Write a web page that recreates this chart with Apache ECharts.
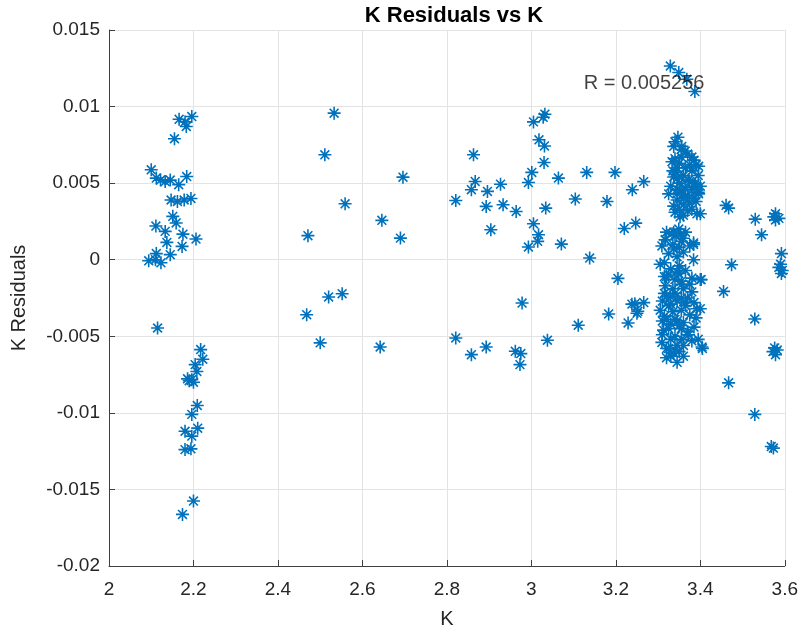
<!DOCTYPE html>
<html>
<head>
<meta charset="utf-8">
<script src="https://cdn.jsdelivr.net/npm/echarts@6/dist/echarts.min.js"></script>
<style>html,body{margin:0;padding:0;background:#fff;}#chart{width:801px;height:637px;}</style>
</head>
<body>
<div id="chart"></div>
<script>
// ---- data ----
const titleText = 'K Residuals vs K';
const xName = 'K';
const yName = 'K Residuals';
const xTicks = [2, 2.2, 2.4, 2.6, 2.8, 3, 3.2, 3.4, 3.6];
const yTicks = [-0.02, -0.015, -0.01, -0.005, 0, 0.005, 0.01, 0.015];
const annotationText = 'R = 0.005256';
const annotationAt = [3.124, 0.01148];

// cluster near K = 2.1 - 2.2 (upper part)
const kLowA = [2.166,2.18,2.196,2.183,2.155,2.1,2.112,2.122,2.133,2.145,2.165,2.184,2.147,2.162,2.178,2.194,2.151,2.159,2.111,2.133,2.175,2.206,2.137,2.173,2.145,2.112,2.094,2.11,2.123,2.115];
const rLowA = [0.00917,0.0090,0.00935,0.0087,0.0079,0.00587,0.00533,0.0052,0.0051,0.0052,0.0049,0.00543,0.0039,0.0038,0.0039,0.0040,0.00283,0.0024,0.0022,0.00185,0.00167,0.00135,0.00113,0.00087,0.00033,0.0004,-0.00007,0,-0.0002,-0.00446];
// cluster near K = 2.2 (lower part)
const kLowB = [2.217,2.222,2.204,2.208,2.186,2.196,2.2,2.19,2.209,2.196,2.18,2.21,2.196,2.18,2.194,2.2,2.174];
const rLowB = [-0.00587,-0.0065,-0.00685,-0.0073,-0.00778,-0.00783,-0.008,-0.0079,-0.00952,-0.0101,-0.0112,-0.011,-0.01152,-0.0124,-0.01235,-0.01576,-0.01663];
// K = 2.45 - 2.7
const kMidA = [2.533,2.511,2.696,2.559,2.471,2.646,2.69,2.52,2.552,2.468,2.5,2.642];
const rMidA = [0.00957,0.00685,0.00539,0.00365,0.00157,0.00257,0.00141,-0.00243,-0.00222,-0.00359,-0.00543,-0.0057];
// K = 2.8 - 3.25
const kMidB = [3.018,3.031,3.03,2.863,3.001,2.993,3.064,3.131,3.198,3.239,2.867,2.858,2.896,2.927,2.821,2.893,2.933,2.964,3.034,3.104,3.179,2.904,3.005,3.017,3.015,2.993,3.071,3.22,3.247,3.138,3.205,2.978,3.245,3.252,3.183,3.229,3.111,2.821,2.858,2.893,2.962,2.975,2.973,3.038,3.005,3.028,3.032,3.266,3.238,3.266,3.25];
const rMidB = [0.00783,0.00743,0.00635,0.00685,0.0057,0.00504,0.00533,0.0057,0.0057,0.00457,0.00511,0.00457,0.00446,0.00493,0.00387,0.00348,0.00359,0.00315,0.00337,0.00396,0.0038,0.00196,0.00235,0.00163,0.0012,0.00083,0.00102,0.00204,0.00239,0.00011,-0.00122,-0.00283,-0.00287,-0.00337,-0.00354,-0.00413,-0.00428,-0.00511,-0.0062,-0.0057,-0.00598,-0.00613,-0.00685,-0.00526,0.0090,0.0093,0.0095,0.0051,-0.0029,-0.0028,-0.0035];
// dense cluster K = 3.3 - 3.4 (upper)
const kHighA = [3.329,3.349,3.368,3.387,3.347,3.337,3.356,3.364,3.38,3.396,3.333,3.345,3.337,3.356,3.372,3.388,3.4,3.325,3.345,3.364,3.384,3.396,3.337,3.36,3.392,3.352,3.34,3.355,3.37,3.385,3.34,3.35,3.365,3.38,3.395,3.34,3.35,3.365,3.38,3.395,3.33,3.345,3.36,3.375,3.39,3.35,3.37,3.34,
  3.355,3.375,3.345,3.36,3.375,3.39,3.355,3.37,3.38,3.36,3.345,3.335,3.39];
const rHighA = [0.01265,0.01222,0.01178,0.01098,0.008,0.0074,0.0074,0.0071,0.0067,0.0061,0.0064,0.006,0.0054,0.0054,0.0052,0.005,0.0048,0.0043,0.0043,0.0041,0.004,0.0043,0.0035,0.0036,0.003,0.0028,0.0077,0.0072,0.0069,0.0065,0.0066,0.0063,0.006,0.0058,0.0055,0.0057,0.005,0.0047,0.0046,0.0044,0.0048,0.0039,0.004,0.0037,0.0038,0.0033,0.0032,0.0031,
  0.0067,0.0062,0.0053,0.0055,0.0051,0.0048,0.0045,0.0042,0.0033,0.0029,0.0046,0.0058,0.0062];
// dense cluster K = 3.3 - 3.4 (lower)
const kHighB = [3.337,3.317,3.353,3.384,3.333,3.349,3.317,3.36,3.384,3.309,3.337,3.384,3.305,3.349,3.4,3.317,3.356,3.38,3.329,3.305,3.325,3.364,3.392,3.321,3.345,3.313,3.372,3.356,3.309,3.325,3.404,3.345,3.337,3.32,3.34,3.355,3.325,3.345,3.36,3.315,3.33,3.35,3.365,3.32,3.34,3.36,3.375,3.315,3.335,3.345,3.31,3.335,3.355,3.375,3.315,3.33,3.355,3.385,3.31,3.34,3.36,3.38,3.32,3.35,3.395,3.33,
  3.325,3.335,3.345,3.355,3.365,3.325,3.34,3.35,3.33,3.345,3.32,3.33,3.36,3.37,3.315,3.35,3.365,3.375,3.37,3.385,3.39,3.38,3.32,3.34,3.36,3.31,3.34,3.355];
const rHighB = [0.0018,0.0013,0.0016,0.0011,0.0017,0.002,0.0013,0.0014,0.001,0.0009,0.0007,0,-0.0003,-0.0009,-0.0013,-0.0017,-0.0016,-0.0021,-0.0024,-0.0033,-0.003,-0.0028,-0.0032,-0.0039,-0.004,-0.0046,-0.0049,-0.0052,-0.0054,-0.0058,-0.0057,-0.0067,-0.0061,0.0018,0.0016,0.0012,0.0004,0.0002,0.0005,-0.0002,-0.0006,-0.0004,-0.0007,-0.0011,-0.0013,-0.0019,-0.0016,-0.0022,-0.0019,-0.0027,-0.0027,-0.0034,-0.0033,-0.0036,-0.0037,-0.0042,-0.0045,-0.0044,-0.0049,-0.005,-0.0056,-0.0053,-0.0058,-0.006,-0.0052,-0.0063,
  -0.001,0.001,-0.0008,-0.0025,-0.003,-0.0045,-0.0039,-0.0043,-0.0052,-0.0056,-0.0024,-0.0029,-0.0041,-0.0047,-0.0011,0.0008,0.0018,0.0009,-0.0025,-0.0028,-0.0038,-0.0012,-0.0064,-0.0059,-0.0063,-0.004,-0.0022,-0.0014];
// K = 3.4 - 3.6
const kRight = [3.461,3.467,3.53,3.545,3.578,3.578,3.574,3.586,3.592,3.59,3.586,3.594,3.592,3.474,3.455,3.529,3.576,3.572,3.582,3.578,3.467,3.529,3.568,3.573,3.4,3.402,3.4,3.405];
const rRight = [0.00355,0.00337,0.00265,0.00163,0.003,0.0026,0.0028,0.0027,0.0004,-0.0003,-0.0005,-0.0007,-0.0009,-0.00033,-0.00207,-0.00387,-0.00576,-0.006,-0.0059,-0.0062,-0.00804,-0.0101,-0.0122,-0.0123,0.003,-0.0013,-0.0032,-0.0058];

// ---- build ----
const kAll = [].concat(kLowA, kLowB, kMidA, kMidB, kHighA, kHighB, kRight);
const rAll = [].concat(rLowA, rLowB, rMidA, rMidB, rHighA, rHighB, rRight);
const points = kAll.map((k, i) => [k, rAll[i]]);

const FONT = '"Liberation Sans", Arial, Helvetica, sans-serif';
const BLUE = '#0072BD';
const TXT = '#262626';
const star = 'path://M0,5L10,5M5,0L5,10M1.6,1.6L8.4,8.4M1.6,8.4L8.4,1.6';

const chart = echarts.init(document.getElementById('chart'), null, {renderer: 'canvas'});
chart.setOption({
  animation: false,
  backgroundColor: '#ffffff',
  title: {
    text: titleText,
    left: 449, top: 0, textAlign: 'center',
    textStyle: {fontFamily: FONT, fontSize: 22, fontWeight: 'bold', color: '#000'}
  },
  grid: {left: 109, right: 15, top: 30, bottom: 71, containLabel: false},
  xAxis: {
    type: 'value', min: xTicks[0], max: xTicks[xTicks.length - 1], interval: 0.2,
    name: xName, nameLocation: 'middle', nameGap: 43,
    nameTextStyle: {fontFamily: FONT, fontSize: 20, color: TXT},
    axisLine: {show: true, onZero: false, lineStyle: {color: '#404040', width: 1}},
    axisTick: {show: true, inside: true, length: 6, lineStyle: {color: '#404040'}},
    axisLabel: {fontFamily: FONT, fontSize: 19, color: TXT, margin: 14,
      formatter: v => String(+(+v).toFixed(1))},
    splitLine: {show: true, lineStyle: {color: '#e3e3e3', width: 1}}
  },
  yAxis: {
    type: 'value', min: yTicks[0], max: yTicks[yTicks.length - 1], interval: 0.005,
    name: yName, nameLocation: 'middle', nameGap: 80,
    nameTextStyle: {fontFamily: FONT, fontSize: 20, color: TXT},
    axisLine: {show: true, onZero: false, lineStyle: {color: '#404040', width: 1}},
    axisTick: {show: true, inside: true, length: 6, lineStyle: {color: '#404040'}},
    axisLabel: {fontFamily: FONT, fontSize: 19, color: TXT, margin: 9,
      formatter: v => String(+(+v).toFixed(3))},
    splitLine: {show: true, lineStyle: {color: '#e3e3e3', width: 1}}
  },
  series: [
    {
      type: 'scatter', data: points, symbol: star, symbolSize: 13,
      itemStyle: {color: BLUE, borderColor: BLUE, borderWidth: 1.6, opacity: 1},
      emphasis: {disabled: true}, z: 2
    },
    {
      type: 'scatter', data: [annotationAt], symbolSize: 0, silent: true, z: 5,
      label: {show: true, position: 'right', distance: 0, formatter: annotationText,
        fontFamily: FONT, fontSize: 20, color: '#111'}
    }
  ]
});
</script>
</body>
</html>
